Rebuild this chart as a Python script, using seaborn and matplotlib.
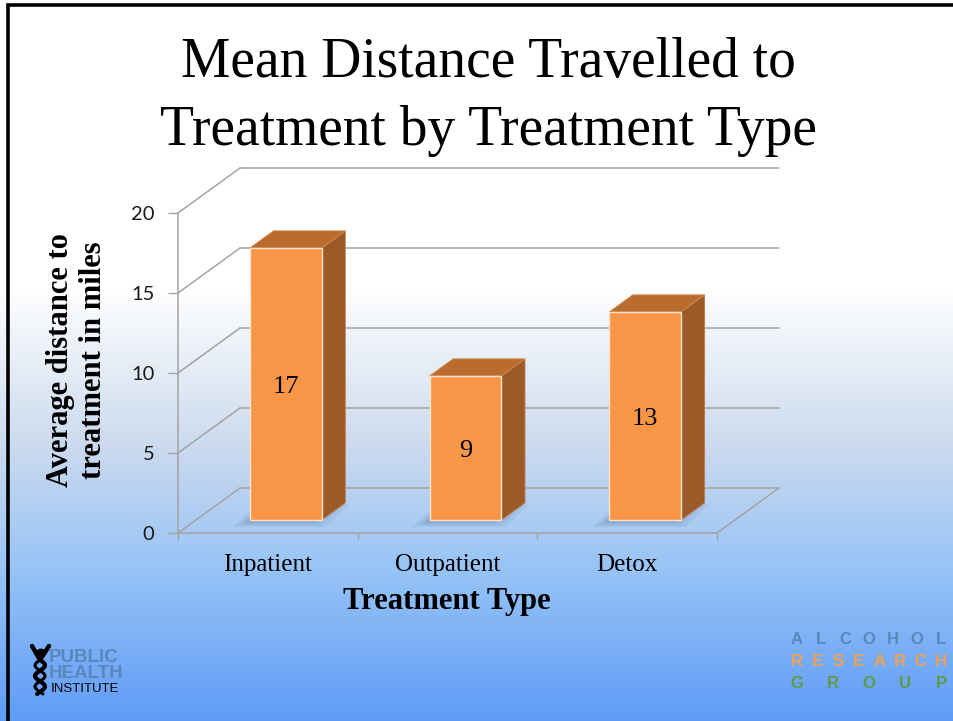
import numpy as np
import pandas as pd
import matplotlib
matplotlib.use("Agg")
import matplotlib.pyplot as plt
import matplotlib.transforms as mtransforms
from matplotlib.patches import Polygon, Circle
from matplotlib.lines import Line2D
import seaborn as sns

# ---- data -------------------------------------------------------------
categories = ["Inpatient", "Outpatient", "Detox"]
mean_miles = [17, 9, 13]
y_ticks = [0, 5, 10, 15, 20]

title = "Mean Distance Travelled to\nTreatment by Treatment Type"
x_label = "Treatment Type"
y_label = "Average distance to\ntreatment in miles"

arg_rows = ["ALCOHOL", "RESEARCH", "GROUP"]
arg_colors = ["#5A86BA", "#F2A04E", "#5E9B48"]

# ---- styling ----------------------------------------------------------
W, H, DPI = 954, 721, 100
FRONT = "#F79646"
TOP = "#BA6C2E"
SIDE = "#9A5B29"
EDGE = "#FBE3CC"
GRID = "#A3A3A3"

sns.set_theme(style="white")
plt.rcParams["font.family"] = ["Liberation Serif", "DejaVu Serif"]


def fx(px):
    return px / W


def fy(py):
    return 1 - py / H


fig = plt.figure(figsize=(W / DPI, H / DPI), dpi=DPI)

# slide background: white at the top fading into blue
bg = fig.add_axes([0, 0, 1, 1], zorder=-10)
stop_pos = [0.0, 0.40, 0.62, 0.80, 1.0]
stop_rgb = [(255, 255, 255), (255, 255, 255), (203, 218, 238),
            (148, 194, 246), (96, 156, 246)]
rows = np.linspace(0, 1, H)
grad = np.stack([np.interp(rows, stop_pos, [c[i] for c in stop_rgb])
                 for i in range(3)], axis=-1) / 255
bg.imshow(grad[:, None, :], aspect="auto", extent=[0, 1, 0, 1], origin="upper")
bg.axis("off")

# ---- chart axes -------------------------------------------------------
left_px, right_px, bottom_px, top_px = 178, 800, 533, 150
px_per_x = 539 / 3
px_per_y = 16
ax = fig.add_axes([fx(left_px), fy(bottom_px), (right_px - left_px) / W,
                   (bottom_px - top_px) / H])
ax.set_facecolor("none")

df = pd.DataFrame({"Treatment Type": categories, "Miles": mean_miles})
sns.barplot(data=df, x="Treatment Type", y="Miles", width=0.4, color=FRONT,
            saturation=1, edgecolor=EDGE, linewidth=1.0, errorbar=None,
            ax=ax, zorder=4)

ax.set_xlim(-0.5, -0.5 + (right_px - left_px) / px_per_x)
ax.set_ylim(0, (bottom_px - top_px) / px_per_y)

# depth of the 3-D box (back wall offset) in data units
DX = 62 / px_per_x
DY = 45 / px_per_y
n = len(categories)

# side wall and back wall grid lines
for v in y_ticks:
    ax.plot([-0.5, -0.5 + DX], [v, v + DY], color=GRID, lw=1.1, zorder=1)
    ax.plot([-0.5 + DX, n - 0.5 + DX], [v + DY, v + DY], color=GRID, lw=1.1,
            zorder=1)
# right edge of the floor
ax.plot([n - 0.5, n - 0.5 + DX], [0, DY], color=GRID, lw=1.1, zorder=1)

# bars sit part-way into the depth of the box
f0, fd = 0.29, 0.38
ox, oy = f0 * DX, f0 * DY
bdx, bdy = fd * DX, fd * DY
shift = mtransforms.Affine2D().translate(ox, oy) + ax.transData

for patch in list(ax.patches):
    x0, w, h = patch.get_x(), patch.get_width(), patch.get_height()
    patch.set_transform(shift)
    l, r, b, t = x0 + ox, x0 + w + ox, oy, h + oy
    # soft drop shadow on the floor
    for k, a in enumerate([0.07, 0.08, 0.10]):
        grow = 0.03 * (2 - k)
        sx, sy = -0.035, -0.2
        ax.add_patch(Polygon(
            [(l + sx - grow, b + sy - grow * 4), (r + sx + grow, b + sy - grow * 4),
             (r + bdx + sx + grow, b + bdy + sy + grow * 2),
             (l + bdx + sx - grow, b + bdy + sy + grow * 2)],
            closed=True, facecolor="#2A3E5A", edgecolor="none", alpha=a,
            zorder=2))
    # right side face
    ax.add_patch(Polygon([(r, b), (r + bdx, b + bdy), (r + bdx, t + bdy), (r, t)],
                         closed=True, facecolor=SIDE, edgecolor="#C07A45",
                         lw=0.6, zorder=3))
    # top face
    ax.add_patch(Polygon([(l, t), (r, t), (r + bdx, t + bdy), (l + bdx, t + bdy)],
                         closed=True, facecolor=TOP, edgecolor="#D08A50",
                         lw=0.6, zorder=3))
    # value label on the front face
    ax.text((l + r) / 2, b + h / 2 - 0.2, f"{h:g}", ha="center", va="center",
            fontsize=19, color="black", zorder=6)

# front axes lines
sns.despine(ax=ax, top=True, right=True)
for side in ["left", "bottom"]:
    ax.spines[side].set_color(GRID)
    ax.spines[side].set_linewidth(1.1)
ax.spines["left"].set_bounds(0, max(y_ticks))
ax.spines["bottom"].set_bounds(-0.5, n - 0.5)

ax.set_yticks(y_ticks)
ax.set_yticklabels([str(v) for v in y_ticks], fontfamily="Lato", fontsize=14.5,
                   color="#1A1A1A")
ax.tick_params(axis="y", which="major", direction="out", length=7, width=1,
               color=GRID, pad=10, left=True)

ax.set_xticks(range(n))
ax.set_xticklabels(categories, fontsize=18, color="black")
ax.tick_params(axis="x", which="major", length=0, pad=15)
ax.set_xticks([i - 0.5 for i in range(n + 1)], minor=True)
ax.tick_params(axis="x", which="minor", direction="out", length=5, width=1,
               color=GRID, bottom=True)
ax.grid(False)

ax.set_xlabel(x_label, fontsize=22, fontweight="bold", color="black")
ax.xaxis.set_label_coords((447 - left_px) / (right_px - left_px), -0.142)
ax.set_ylabel(y_label, fontsize=22, fontweight="bold", color="black",
              linespacing=1.2)
ax.yaxis.set_label_coords((108 - left_px) / (right_px - left_px),
                          (bottom_px - 360) / (bottom_px - top_px))

# ---- title ------------------------------------------------------------
fig.text(fx(488), fy(97), title, ha="center", va="center", fontsize=40,
         linespacing=1.38, color="black")

# ---- slide border -----------------------------------------------------
fig.add_artist(Line2D([fx(8), fx(8), fx(W)], [fy(H), fy(5), fy(5)],
                      color="black", lw=2.6, solid_joinstyle="miter"))

# ---- Public Health Institute mark ---------------------------------------
fig.add_artist(Circle((fx(41), fy(652)), 4.5 / W, transform=fig.transFigure,
                      facecolor="black", edgecolor="none"))
fig.add_artist(Line2D([fx(32), fx(40), fx(49)], [fy(646), fy(660), fy(646)],
                      color="black", lw=3.2, solid_capstyle="round"))
tt = np.linspace(0, 1, 40)
fig.add_artist(Line2D(fx(40 + 5 * np.sin(tt * 3.2 * np.pi)), fy(660 + tt * 34),
                      color="black", lw=3.0))
fig.add_artist(Line2D(fx(40 - 5 * np.sin(tt * 3.2 * np.pi)), fy(660 + tt * 34),
                      color="black", lw=2.2))
fig.text(fx(49), fy(657), "PUBLIC", fontfamily="Liberation Sans",
         fontweight="bold", fontsize=13.5, color="#5A88BC", va="center",
         ha="left")
fig.text(fx(49), fy(673), "HEALTH", fontfamily="Liberation Sans",
         fontweight="bold", fontsize=13.5, color="#5A88BC", va="center",
         ha="left")
fig.text(fx(51), fy(689), "INSTITUTE", fontfamily="Liberation Sans",
         fontsize=9.5, color="black", va="center", ha="left")

# ---- Alcohol Research Group mark ----------------------------------------
row_y = [639, 661, 684]
for word, col, yy in zip(arg_rows, arg_colors, row_y):
    xs = np.linspace(797, 941, len(word))
    for ch, xx in zip(word, xs):
        fig.text(fx(xx), fy(yy), ch, fontfamily="Liberation Sans",
                 fontweight="bold", fontsize=12, color=col,
                 ha="center", va="center")

fig.savefig("out.png", dpi=DPI)
